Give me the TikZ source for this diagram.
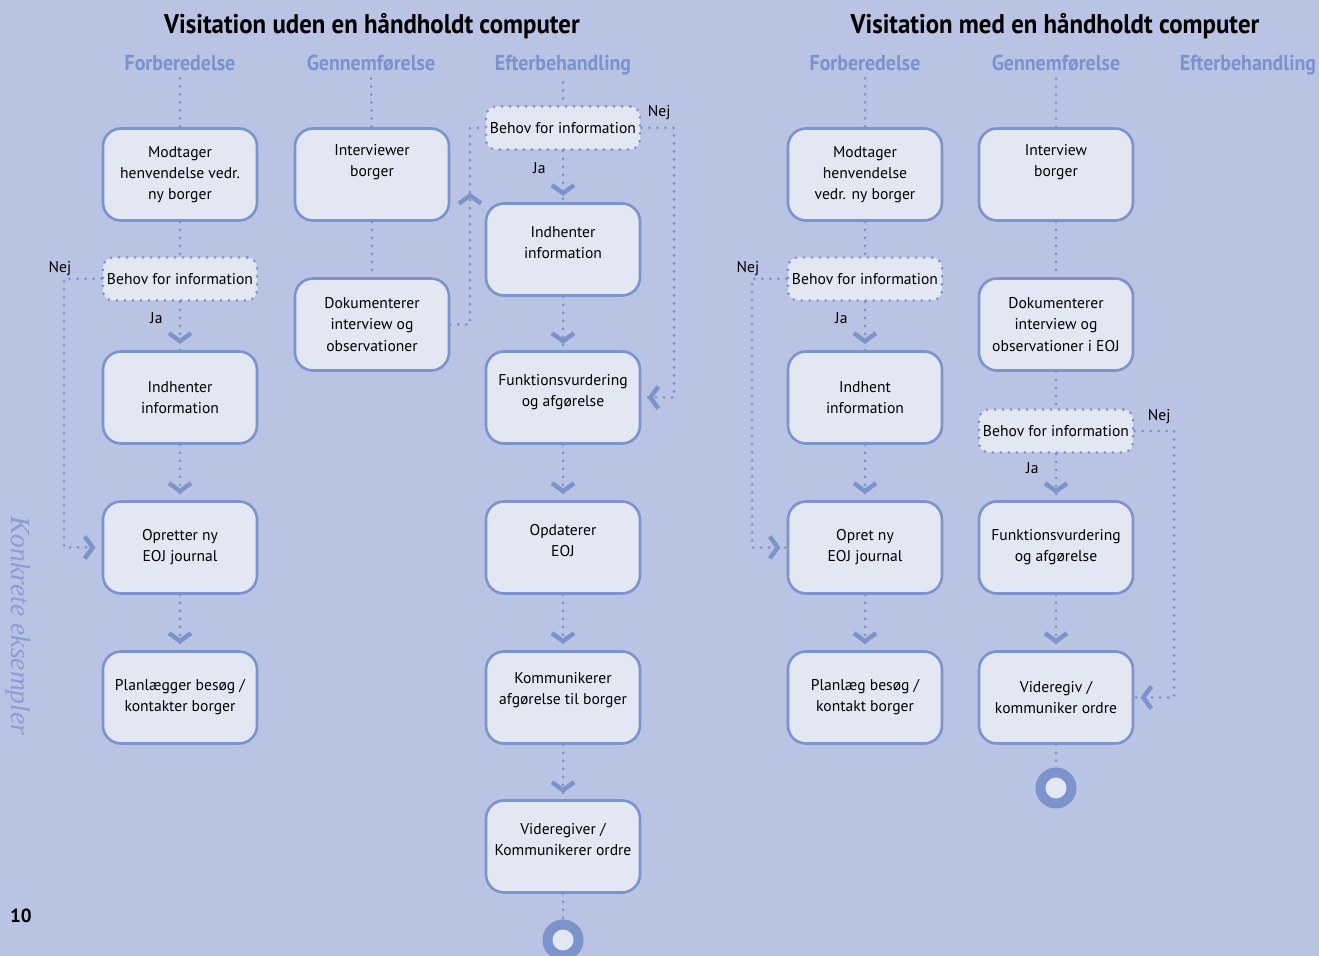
\documentclass[tikz,border=0pt]{standalone}
\usepackage{fontspec}
\setmainfont{PT Sans}
\newfontfamily\condfont{PT Sans}[FakeStretch=0.92]
\newfontfamily\sidefont{Liberation Serif}
\usetikzlibrary{decorations.markings}

\definecolor{bgblue}{HTML}{B9C3E3}
\definecolor{boxfill}{HTML}{E3E7F4}
\definecolor{lineblue}{HTML}{7C93CB}
\definecolor{hdrblue}{HTML}{7B93CD}
\definecolor{sideblue}{HTML}{8A9DD5}

\tikzset{
  box/.style={draw=lineblue, fill=boxfill, line width=1.3pt, rounded corners=9pt,
    minimum width=77pt, minimum height=46pt, inner sep=2pt, align=center,
    font=\fontsize{7.8}{10.6}\selectfont},
  lift/.style={text depth=#1},
  choice/.style={draw=lineblue, fill=boxfill, line width=1.5pt, line cap=round,
    dash pattern=on 0pt off 4pt, rounded corners=5pt, minimum width=77pt,
    minimum height=21.5pt, inner sep=1pt, font=\fontsize{7.8}{9}\selectfont},
  flow/.style={draw=lineblue, line width=1.5pt, line cap=round, dash pattern=on 0pt off 4pt},
  chev/.style={postaction={decorate}, decoration={markings, mark=at position #1 with
    {\draw[solid, draw=lineblue, line width=2.2pt, line cap=butt, line join=miter]
      (-4pt,5.5pt) -- (0pt,0pt) -- (-4pt,-5.5pt);}}},
  chev/.default=-4.5pt,
  hdr/.style={anchor=base, font=\condfont\bfseries\fontsize{10.8}{12}\selectfont, text=hdrblue},
  ttl/.style={anchor=base, font=\condfont\bfseries\fontsize{13.5}{15}\selectfont},
  lbl/.style={font=\fontsize{7.8}{9}\selectfont, inner sep=1pt},
  endring/.style={circle, draw=lineblue, fill=boxfill, line width=5pt, minimum size=15.5pt, inner sep=0pt},
}

\begin{document}
\begin{tikzpicture}[x=0.5pt,y=-0.5pt]
  % Baggrund
  \useasboundingbox (0,0) rectangle (1319,956);
  \fill[bgblue] (0,0) rectangle (1319,956);

  % Sidetekst og sidetal
  \node[rotate=-90, font=\sidefont\itshape\fontsize{13.8}{15}\selectfont, text=sideblue] (side) at (18,626) {Konkrete eksempler};
  \node[font=\bfseries\fontsize{9.5}{10}\selectfont] (pg) at (21,916) {10};

  % Uden en haandholdt computer
  \node[ttl] (ttlA) at (372,34) {Visitation uden en håndholdt computer};
  \node[hdr] (hdrA1) at (180,71) {Forberedelse};
  \node[hdr] (hdrA2) at (371,71) {Gennemførelse};
  \node[hdr] (hdrA3) at (563,71) {Efterbehandling};

  \node[box] (modtagerA) at (180,174.5) {Modtager\\henvendelse vedr.\\ny borger};
  \node[choice] (behovA) at (180,279) {Behov for information};
  \node[box] (indhenterA) at (180,397.5) {Indhenter\\information};
  \node[box] (opretA) at (180,547.5) {Opretter ny\\EOJ journal};
  \node[box] (planA) at (180,697.5) {Planlægger besøg /\\kontakter borger};

  \node[box, lift=14pt] (interviewA) at (372,174.5) {Interviewer\\borger};
  \node[box] (dokA) at (372,324.5) {Dokumenterer\\interview og\\observationer};

  \node[choice] (behovC) at (563,128) {Behov for information};
  \node[box, lift=7pt] (indhenterC) at (563,249.5) {Indhenter\\information};
  \node[box, lift=7pt] (funkC) at (563,397.5) {Funktionsvurdering\\og afgørelse};
  \node[box, lift=7pt] (opdC) at (563,547.5) {Opdaterer\\EOJ};
  \node[box, lift=9pt] (kommC) at (563,697.5) {Kommunikerer\\afgørelse til borger};
  \node[box, lift=7pt] (videreC) at (563,846.5) {Videregiver /\\Kommunikerer ordre};
  \node[endring] (endC) at (563,940) {};

  \coordinate (nejA) at (64,279);
  \coordinate (upC) at (470,324.5);
  \coordinate (nejC) at (674,128);

  \draw[flow] (hdrA1) -- (modtagerA);
  \draw[flow] (modtagerA) -- (behovA);
  \draw[flow, chev] (behovA) -- node[lbl, pos=0.33, left=7pt] {Ja} (indhenterA);
  \draw[flow, chev] (behovA.west) -- (nejA) node[lbl, anchor=south, xshift=-2pt] {Nej} |- (opretA.west);
  \draw[flow, chev] (indhenterA) -- (opretA);
  \draw[flow, chev] (opretA) -- (planA);

  \draw[flow] (hdrA2) -- (interviewA);
  \draw[flow] (interviewA) -- (dokA);
  \draw[flow, chev=-41pt] (dokA.east) -- (upC) |- (behovC.west);

  \draw[flow] (hdrA3) -- (behovC);
  \draw[flow, chev] (behovC) -- node[lbl, pos=0.33, left=7pt] {Ja} (indhenterC);
  \draw[flow, chev] (behovC.east) -- (nejC) node[lbl, anchor=south east, yshift=2.5pt] {Nej} |- (funkC.east);
  \draw[flow, chev] (indhenterC) -- (funkC);
  \draw[flow, chev] (funkC) -- (opdC);
  \draw[flow, chev] (opdC) -- (kommC);
  \draw[flow, chev] (kommC) -- (videreC);
  \draw[flow] (videreC) -- (endC);

  % Med en haandholdt computer
  \node[ttl] (ttlB) at (1055,34) {Visitation med en håndholdt computer};
  \node[hdr] (hdrB1) at (865,71) {Forberedelse};
  \node[hdr] (hdrB2) at (1056,71) {Gennemførelse};
  \node[hdr] (hdrB3) at (1248,71) {Efterbehandling};

  \node[box] (modtagerB) at (865,174.5) {Modtager\\henvendelse\\vedr. ny borger};
  \node[choice] (behovB) at (865,279) {Behov for information};
  \node[box] (indhentB) at (865,397.5) {Indhent\\information};
  \node[box] (opretB) at (865,547.5) {Opret ny\\EOJ journal};
  \node[box] (planB) at (865,697.5) {Planlæg besøg /\\kontakt borger};

  \node[box, lift=14pt] (interviewB) at (1056,174.5) {Interview\\borger};
  \node[box] (dokB) at (1056,324.5) {Dokumenterer\\interview og\\observationer i EOJ};
  \node[choice] (behovD) at (1056,431) {Behov for information};
  \node[box] (funkD) at (1056,547.5) {Funktionsvurdering\\og afgørelse};
  \node[box] (videreD) at (1056,697.5) {Videregiv /\\kommuniker ordre};
  \node[endring] (endD) at (1056,788) {};

  \coordinate (nejB) at (752,279);
  \coordinate (nejD) at (1174,431);

  \draw[flow] (hdrB1) -- (modtagerB);
  \draw[flow] (modtagerB) -- (behovB);
  \draw[flow, chev] (behovB) -- node[lbl, pos=0.33, left=7pt] {Ja} (indhentB);
  \draw[flow, chev] (behovB.west) -- (nejB) node[lbl, anchor=south, xshift=-2pt] {Nej} |- (opretB.west);
  \draw[flow, chev] (indhentB) -- (opretB);
  \draw[flow, chev] (opretB) -- (planB);

  \draw[flow] (hdrB2) -- (interviewB);
  \draw[flow] (interviewB) -- (dokB);
  \draw[flow] (dokB) -- (behovD);
  \draw[flow, chev] (behovD) -- node[lbl, pos=0.3, left=7pt] {Ja} (funkD);
  \draw[flow, chev] (behovD.east) -- (nejD) node[lbl, anchor=south east, yshift=2pt] {Nej} |- (videreD.east);
  \draw[flow, chev] (funkD) -- (videreD);
  \draw[flow] (videreD) -- (endD);
\end{tikzpicture}
\end{document}
